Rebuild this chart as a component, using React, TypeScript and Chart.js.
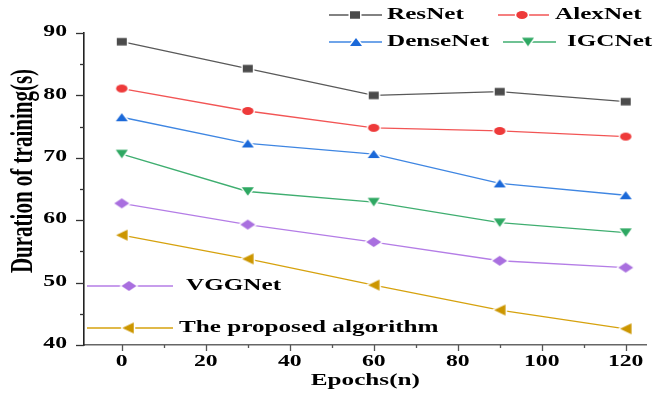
import { useEffect, useRef } from "react";
import { Chart, registerables } from "chart.js";
Chart.register(...registerables);

const epochs = [0, 30, 60, 90, 120];
const resnet = [88.6, 84.3, 80.0, 80.6, 79.0];
const alexnet = [81.1, 77.5, 74.8, 74.3, 73.4];
const densenet = [76.5, 72.3, 70.6, 65.9, 64.0];
const igcnet = [70.6, 64.6, 62.9, 59.6, 58.0];
const vggnet = [62.7, 59.3, 56.5, 53.5, 52.4];
const proposed = [57.6, 53.8, 49.6, 45.6, 42.6];
const seriesNames = ["ResNet", "AlexNet", "DenseNet", "IGCNet", "VGGNet", "The proposed algorithm"];
const xTickLabels = [0, 20, 40, 60, 80, 100, 120];
const yTickLabels = [40, 50, 60, 70, 80, 90];
const xTitle = "Epochs(n)";
const yTitle = "Duration of training(s)";

const SX = 1.48;
const FONT = "'Liberation Serif', 'Times New Roman', serif";

function makeMarker(shape: string, color: string, w: number, h: number) {
  const pad = 3;
  const c = document.createElement("canvas");
  c.width = Math.ceil(w + pad * 2);
  c.height = Math.ceil(h + pad * 2);
  const ctx = c.getContext("2d")!;
  const cx = c.width / 2, cy = c.height / 2;
  ctx.beginPath();
  if (shape === "rect") ctx.rect(cx - w / 2, cy - h / 2, w, h);
  else if (shape === "ellipse") ctx.ellipse(cx, cy, w / 2, h / 2, 0, 0, Math.PI * 2);
  else if (shape === "up") { ctx.moveTo(cx, cy - h / 2); ctx.lineTo(cx + w / 2, cy + h / 2); ctx.lineTo(cx - w / 2, cy + h / 2); ctx.closePath(); }
  else if (shape === "down") { ctx.moveTo(cx, cy + h / 2); ctx.lineTo(cx + w / 2, cy - h / 2); ctx.lineTo(cx - w / 2, cy - h / 2); ctx.closePath(); }
  else if (shape === "diamond") { ctx.moveTo(cx, cy - h / 2); ctx.lineTo(cx + w / 2, cy); ctx.lineTo(cx, cy + h / 2); ctx.lineTo(cx - w / 2, cy); ctx.closePath(); }
  else if (shape === "left") { ctx.moveTo(cx - w / 2, cy); ctx.lineTo(cx + w / 2, cy - h / 2); ctx.lineTo(cx + w / 2, cy + h / 2); ctx.closePath(); }
  ctx.strokeStyle = "#ffffff";
  ctx.lineWidth = 3;
  ctx.lineJoin = "round";
  ctx.stroke();
  ctx.fillStyle = color;
  ctx.fill();
  return c;
}

function stretchedText(ctx: CanvasRenderingContext2D, text: string, x: number, y: number, align: CanvasTextAlign, size: number, rotate = false) {
  ctx.save();
  ctx.translate(x, y);
  ctx.scale(SX, 1);
  if (rotate) ctx.rotate(-Math.PI / 2);
  ctx.font = `bold ${size}px ${FONT}`;
  ctx.fillStyle = "#000";
  ctx.textAlign = align;
  ctx.textBaseline = "middle";
  ctx.fillText(text, 0, 0);
  ctx.restore();
}

const legendSpots = [
  { ds: 0, x1: 329, x2: 382, m: 355, tx: 387, y: 15 },
  { ds: 1, x1: 498, x2: 549, m: 522, tx: 555, y: 15 },
  { ds: 2, x1: 329, x2: 382, m: 356, tx: 387, y: 42 },
  { ds: 3, x1: 503, x2: 556, m: 528, tx: 567, y: 42 },
  { ds: 4, x1: 87, x2: 173, m: 129, tx: 186, y: 286 },
  { ds: 5, x1: 87, x2: 173, m: 128, tx: 179, y: 328 },
];

const decor = {
  id: "decor",
  afterDraw(chart: any) {
    const ctx: CanvasRenderingContext2D = chart.ctx;
    const xs = chart.scales.x, ys = chart.scales.y;
    const a = chart.chartArea;
    ctx.save();
    ctx.strokeStyle = "#333";
    ctx.lineWidth = 1.3;
    for (let v = ys.min; v <= ys.max; v += 5) {
      const y = Math.round(ys.getPixelForValue(v)) + 0.5;
      const len = v % 10 === 0 ? 8 : 4;
      ctx.beginPath(); ctx.moveTo(a.left - len, y); ctx.lineTo(a.left, y); ctx.stroke();
    }
    ctx.strokeStyle = "#555";
    for (let v = 0; v <= xs.max; v += 10) {
      const x = Math.round(xs.getPixelForValue(v)) + 0.5;
      const len = v % 20 === 0 ? 6 : 3;
      ctx.beginPath(); ctx.moveTo(x, a.bottom); ctx.lineTo(x, a.bottom + len); ctx.stroke();
    }
    ctx.restore();
    for (const v of yTickLabels) stretchedText(ctx, String(v), 67, ys.getPixelForValue(v) - 1, "right", 16);
    for (const v of xTickLabels) stretchedText(ctx, String(v), xs.getPixelForValue(v), 362, "center", 16);
    stretchedText(ctx, xTitle, (a.left + a.right) / 2, 381, "center", 17);
    stretchedText(ctx, yTitle, 24, 171, "center", 21, true);
    for (const s of legendSpots) {
      const ds = chart.data.datasets[s.ds];
      ctx.save();
      ctx.strokeStyle = ds.borderColor;
      ctx.lineWidth = 1.3;
      ctx.beginPath(); ctx.moveTo(s.x1, s.y); ctx.lineTo(s.x2, s.y); ctx.stroke();
      const img = ds.pointStyle as HTMLCanvasElement;
      ctx.drawImage(img, s.m - img.width / 2, s.y - img.height / 2);
      ctx.restore();
      stretchedText(ctx, seriesNames[s.ds], s.tx, s.y, "left", 17);
    }
  },
};

export default function App() {
  const ref = useRef<HTMLCanvasElement>(null);
  useEffect(() => {
    const series = [resnet, alexnet, densenet, igcnet, vggnet, proposed];
    const lineColors = ["#595959", "#f25555", "#3f86e2", "#3fae70", "#b47de6", "#d6a20e"];
    const markers = [
      makeMarker("rect", "#4b4b4b", 10, 7.5),
      makeMarker("ellipse", "#ee3a3a", 11.5, 8),
      makeMarker("up", "#1b69d9", 12, 8),
      makeMarker("down", "#2ea862", 12, 8.5),
      makeMarker("diamond", "#a96fdf", 15, 10),
      makeMarker("left", "#cc9600", 11.5, 11),
    ];
    const chart = new Chart(ref.current!, {
      type: "line",
      data: {
        datasets: series.map((vals, i) => ({
          label: seriesNames[i],
          data: epochs.map((e, j) => ({ x: e, y: vals[j] })),
          borderColor: lineColors[i],
          borderWidth: 1.3,
          pointStyle: markers[i] as any,
          pointRadius: 6,
          pointHoverRadius: 6,
          tension: 0,
          fill: false,
        })),
      },
      options: {
        responsive: false,
        animation: false,
        events: [],
        layout: { padding: { top: 33, right: 4, left: 0, bottom: 0 } },
        plugins: { legend: { display: false }, tooltip: { enabled: false } },
        scales: {
          x: {
            type: "linear",
            min: -9,
            max: 125,
            grid: { display: false },
            border: { display: true, color: "#666", width: 1.6 },
            ticks: { display: false },
            afterFit: (s: any) => { s.height = 49; },
          },
          y: {
            type: "linear",
            min: 40,
            max: 90,
            grid: { display: false },
            border: { display: true, color: "#222", width: 1.6 },
            ticks: { display: false },
            afterFit: (s: any) => { s.width = 84; },
          },
        },
      },
      plugins: [decor],
    });
    return () => chart.destroy();
  }, []);
  return (
    <div style={{ position: "absolute", left: 0, top: 0, width: 654, height: 394, background: "#fff" }}>
      <canvas ref={ref} width={654} height={394} style={{ display: "block" }} />
    </div>
  );
}
